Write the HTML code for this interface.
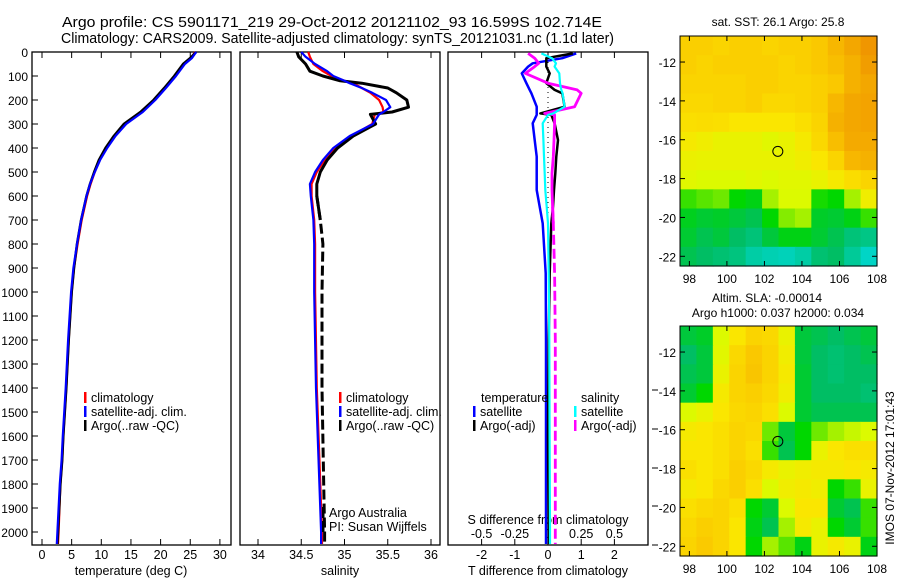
<!DOCTYPE html>
<html><head><meta charset="utf-8"><style>
html,body{margin:0;padding:0;background:#fff;}
svg{display:block;font-family:"Liberation Sans",sans-serif;}
</style></head><body>
<svg id="c" width="900" height="580" viewBox="0 0 900 580" xmlns="http://www.w3.org/2000/svg">
<text x="62" y="27" font-size="14.5" textLength="540" lengthAdjust="spacingAndGlyphs">Argo profile: CS 5901171_219 29-Oct-2012 20121102_93 16.599S 102.714E</text>
<text x="61" y="43" font-size="14.5" textLength="553" lengthAdjust="spacingAndGlyphs">Climatology: CARS2009. Satellite-adjusted climatology: synTS_20121031.nc (1.1d later)</text>
<g id="g"></g>
</svg>
<script>
// ---- data ----
const tDepth=[0,25,50,100,150,200,250,300,350,400,450,500,550,600,700,800,900,1000,1200,1400,1600,1700,1800,2000,2050];
const tArgo=[26,25,23.8,22.3,20.6,18.8,16.6,13.8,12.1,10.7,9.6,8.8,8.1,7.5,6.6,5.9,5.4,5.0,4.5,4.1,3.6,3.4,3.1,2.7,2.6];
const tClim=[25.8,25.2,24,22.5,20.8,19,16.8,14.1,12.2,10.8,9.7,8.9,8.2,7.6,6.7,6.0,5.4,5.0,4.5,4.1,3.6,3.4,3.1,2.8,2.7];
const tSat=[26,25.3,24.1,22.6,20.9,19.1,17.0,14.2,12.4,11.0,9.8,8.9,8.1,7.5,6.6,5.9,5.3,4.9,4.4,4.0,3.5,3.3,3.0,2.6,2.5];
const sDepth=[0,20,50,80,100,120,130,150,170,200,230,250,260,300,350,400,450,500,550,600,700,800,1000,1400,1800,2000,2050];
const sArgo=[34.45,34.47,34.55,34.6,34.75,34.95,35.2,35.5,35.6,35.72,35.74,35.55,35.3,35.36,35.1,34.92,34.8,34.72,34.68,34.68,34.72,34.75,34.74,34.74,34.76,34.77,34.77];
const sClim=[34.58,34.6,34.64,34.75,34.85,35.0,35.1,35.2,35.3,35.4,35.44,35.45,35.35,35.32,35.08,34.89,34.77,34.68,34.62,34.62,34.65,34.66,34.66,34.68,34.72,34.74,34.74];
const sSat=[34.5,34.55,34.66,34.8,34.87,35.0,35.06,35.2,35.32,35.48,35.53,35.45,35.4,35.33,35.06,34.87,34.75,34.66,34.6,34.61,34.64,34.65,34.65,34.67,34.71,34.73,34.73];
const dDepth=[6,26,47,61,89,130,158,172,228,256,262,297,367,436,506,575,645,714,922,1200,1600,2000,2050];
const dTsat=[0.85,0.43,-0.46,-0.6,-0.79,-0.65,-0.55,-0.5,-0.34,-0.34,-0.34,-0.46,-0.4,-0.34,-0.34,-0.34,-0.25,-0.16,-0.07,-0.06,-0.06,-0.06,-0.06];
const dTargo=[0.75,-0.05,-0.05,-0.05,0.05,-0.05,0.2,0.43,0.5,-0.23,0.1,0.2,0.3,0.25,0.22,0.18,0.15,0.1,0.05,0.02,0.0,0.02,0.02];
const dSsat=[-0.05,0.03,0.06,0.05,0.085,0.09,0.1,0.11,0.125,0.04,0.0,-0.04,-0.035,-0.03,-0.025,-0.02,-0.01,0.0,0.005,0.01,0.012,0.015,0.015];
const dSargo=[-0.15,-0.1,-0.07,-0.1,-0.17,0.0,0.22,0.25,0.2,-0.025,0.05,0.05,0.045,0.04,0.03,0.03,0.035,0.04,0.05,0.055,0.055,0.055,0.055];
const depthTicks=[0,100,200,300,400,500,600,700,800,900,1000,1100,1200,1300,1400,1500,1600,1700,1800,1900,2000];
const tTicks=[0,5,10,15,20,25,30];
const sTicks=[34,34.5,35,35.5,36];
const dTicks=[-2,-1,0,1,2];
const dsTicks=[-0.5,-0.25,0,0.25,0.5];
const latTicks=[-12,-14,-16,-18,-20,-22];
const lonTicks=[98,100,102,104,106,108];
const argoLon=102.714, argoLat=-16.599;
// map fields 12 cols x 12 rows, 0=cyan .. 1=orange
const sstGrid=[
[0.72,0.72,0.7,0.72,0.72,0.7,0.72,0.72,0.75,0.8,0.85,0.9],
[0.72,0.7,0.72,0.72,0.72,0.72,0.7,0.72,0.75,0.78,0.82,0.88],
[0.7,0.7,0.7,0.7,0.72,0.72,0.7,0.7,0.72,0.75,0.82,0.85],
[0.68,0.68,0.7,0.7,0.72,0.68,0.68,0.7,0.72,0.8,0.85,0.86],
[0.65,0.66,0.65,0.62,0.62,0.62,0.62,0.65,0.7,0.82,0.85,0.86],
[0.6,0.58,0.55,0.55,0.55,0.52,0.55,0.6,0.68,0.78,0.84,0.84],
[0.56,0.55,0.55,0.55,0.55,0.55,0.55,0.58,0.62,0.7,0.8,0.82],
[0.52,0.5,0.5,0.5,0.52,0.5,0.52,0.52,0.55,0.6,0.66,0.7],
[0.35,0.38,0.4,0.3,0.28,0.45,0.5,0.5,0.32,0.3,0.45,0.58],
[0.27,0.25,0.26,0.24,0.22,0.3,0.42,0.45,0.26,0.25,0.28,0.35],
[0.25,0.22,0.24,0.2,0.17,0.24,0.28,0.28,0.25,0.22,0.17,0.15],
[0.22,0.2,0.18,0.16,0.1,0.08,0.07,0.1,0.18,0.2,0.12,0.05]];
const slaGrid=[
[0.24,0.26,0.5,0.62,0.7,0.68,0.55,0.24,0.22,0.2,0.22,0.24],
[0.2,0.24,0.52,0.68,0.75,0.7,0.58,0.24,0.2,0.18,0.2,0.22],
[0.22,0.24,0.55,0.7,0.76,0.7,0.6,0.25,0.2,0.18,0.2,0.2],
[0.25,0.3,0.6,0.7,0.72,0.68,0.58,0.25,0.2,0.2,0.2,0.18],
[0.5,0.55,0.62,0.68,0.7,0.65,0.5,0.25,0.22,0.22,0.22,0.22],
[0.6,0.62,0.65,0.7,0.68,0.4,0.24,0.3,0.4,0.45,0.48,0.5],
[0.62,0.62,0.65,0.7,0.65,0.35,0.22,0.3,0.55,0.62,0.65,0.65],
[0.65,0.62,0.65,0.72,0.68,0.6,0.55,0.58,0.6,0.6,0.62,0.6],
[0.6,0.62,0.68,0.72,0.65,0.5,0.58,0.6,0.58,0.3,0.35,0.55],
[0.65,0.68,0.7,0.65,0.3,0.25,0.5,0.62,0.62,0.25,0.22,0.35],
[0.68,0.72,0.7,0.62,0.28,0.22,0.45,0.6,0.55,0.3,0.25,0.35],
[0.7,0.74,0.7,0.62,0.3,0.45,0.38,0.28,0.55,0.6,0.55,0.28]];
// ---- drawing ----
const NS='http://www.w3.org/2000/svg';
const G=document.getElementById('g');
function el(tag,attrs,parent){const e=document.createElementNS(NS,tag);for(const k in attrs)e.setAttribute(k,attrs[k]);(parent||G).appendChild(e);return e;}
function txt(x,y,s,size,anchor,parent){const t=el('text',{x:x,y:y,'font-size':size||12,'text-anchor':anchor||'middle'},parent);t.textContent=s;return t;}
const Y0=52,YT=545;
const yD=d=>Y0+d*0.24;
const xT=v=>42+v*5.93;
const xS=v=>258+(v-34)*86.5;
const xDf=v=>548+v*33.2;
const xDs=v=>548+v*4*33.2;
function box(x1,x2,name){const r=el('rect',{x:x1,y:Y0,width:x2-x1,height:YT-Y0,fill:'none',stroke:'#000','stroke-width':1.3});}
box(32,231,'temperature-panel');box(240,440,'salinity-panel');box(448,648,'difference-panel');
depthTicks.forEach(d=>{const y=yD(d);
 el('line',{x1:32,x2:38,y1:y,y2:y,stroke:'#000'});
 const t=txt(28,y+5,String(d),12,'end');});
function xticks(ticks,fx,ly){ticks.forEach(v=>{const x=fx(v);
 el('line',{x1:x,x2:x,y1:YT,y2:YT-6,stroke:'#000'});el('line',{x1:x,x2:x,y1:Y0,y2:Y0+6,stroke:'#000'});
 const t=txt(x,ly,String(v),12.5);});}
xticks(tTicks,xT,559);
xticks(sTicks,xS,559);
xticks(dTicks,xDf,559);
dsTicks.forEach(v=>{const t=txt(xDs(v),538,String(v),12.5);});
[['temperature (deg C)',131],['salinity',340],['T difference from climatology',548]].forEach(a=>{const t=txt(a[1],575,a[0],12.5);});
const st=txt(548,524,'S difference from climatology',12.5);
[390,429,468,506,545].forEach(y=>el('line',{x1:652,x2:658,y1:y,y2:y,stroke:'#000'}));
function line(depths,vals,fx,color,w,dash,name,dashFrom){
 const mk=(idx,d2)=>{const pts=idx.map(i=>fx(vals[i]).toFixed(1)+','+yD(depths[i]).toFixed(1)).join(' ');
  const p=el('polyline',{points:pts,fill:'none',stroke:color,'stroke-width':w,'stroke-linejoin':'round'});if(d2)p.setAttribute('stroke-dasharray',d2);
  };
 const all=depths.map((d,i)=>i);
 if(!dash){mk(all,null);return;}
 mk(all.filter(i=>depths[i]<=dashFrom||(i>0&&depths[i-1]<dashFrom)),null);
 mk(all.filter(i=>depths[i]>=dashFrom||(i<depths.length-1&&depths[i+1]>dashFrom)),dash);}
line(tDepth,tClim,xT,'#f00',2.2,null,'temp-climatology-line');
line(tDepth,tArgo,xT,'#000',2.5,null,'temp-argo-line');
line(tDepth,tSat,xT,'#00f',2.2,null,'temp-satellite-line');
line(sDepth,sClim,xS,'#f00',2.2,null,'sal-climatology-line');
line(sDepth,sArgo,xS,'#000',3,'10,4','sal-argo-line',650);
line(sDepth,sSat,xS,'#00f',2.2,null,'sal-satellite-line');
el('line',{x1:548,x2:548,y1:Y0,y2:yD(760),stroke:'#000','stroke-dasharray':'1,4'});
line(dDepth,dTsat,xDf,'#00f',2.5,null,'tdiff-satellite-line');
line(dDepth,dTargo,xDf,'#000',2.5,null,'tdiff-argo-line');
line(dDepth,dSargo,xDs,'#f0f',2.8,'10,4','sdiff-argo-line',700);
line(dDepth,dSsat,xDs,'#0ff',2.2,null,'sdiff-satellite-line');
function leg(x,y,c,s,name){el('rect',{x:x,y:y-10,width:2.5,height:11,fill:c});const t=txt(x+7,y,s,12.5,'start');}
leg(84,402,'#f00','climatology','legend-climatology');leg(84,416,'#00f','satellite-adj. clim.','legend-satellite');leg(84,430,'#000','Argo(..raw -QC)','legend-argo');
leg(339,402,'#f00','climatology','legend-climatology-2');leg(339,416,'#00f','satellite-adj. clim.','legend-satellite-2');leg(339,430,'#000','Argo(..raw -QC)','legend-argo-2');
txt(481,402,'temperature',12.5,'start');txt(581,402,'salinity',12.5,'start');
leg(473,416,'#00f','satellite','legend-t-satellite');leg(473,430,'#000','Argo(-adj)','legend-t-argo');
leg(574,416,'#0ff','satellite','legend-s-satellite');leg(574,430,'#f0f','Argo(-adj)','legend-s-argo');
leg(322,517,'#000','Argo Australia','credit-argo-australia');leg(322,531,'#000','PI: Susan Wijffels','credit-pi');
function cmap(v){const stops=[[0,[0,220,230]],[0.2,[0,190,100]],[0.3,[0,215,0]],[0.5,[220,250,0]],[0.62,[250,230,0]],[0.75,[250,200,0]],[0.9,[240,150,0]],[1,[220,120,0]]];
 for(let i=1;i<stops.length;i++){if(v<=stops[i][0]){const a=stops[i-1],b=stops[i],f=(v-a[0])/(b[0]-a[0]);return 'rgb('+a[1].map((c,j)=>Math.round(c+(b[1][j]-c)*f)).join(',')+')';}}return 'rgb(220,120,0)';}
function map(top,grid,name){const L=680,R=877,B=top+230,lon0=97.5,lon1=108,lat0=-10.66,lat1=-22.5;
 const fx=v=>L+(v-lon0)/(lon1-lon0)*(R-L),fy=v=>top+(v-lat0)/(lat1-lat0)*(B-top);
 const g=el('g',{});
 const nr=grid.length,nc=grid[0].length,cw=(R-L)/nc,ch=(B-top)/nr;
 grid.forEach((row,r)=>row.forEach((v,c)=>{el('rect',{x:L+c*cw,y:top+r*ch,width:cw+0.6,height:ch+0.6,fill:cmap(v)},g);}));
 el('rect',{x:L,y:top,width:R-L,height:B-top,fill:'none',stroke:'#000','stroke-width':1},g);
 latTicks.forEach(v=>{const y=fy(v);el('line',{x1:L,x2:L+5,y1:y,y2:y,stroke:'#000'},g);el('line',{x1:R,x2:R-5,y1:y,y2:y,stroke:'#000'},g);txt(L-4,y+5,String(v),12,'end',g);});
 lonTicks.forEach(v=>{const x=fx(v);el('line',{x1:x,x2:x,y1:B,y2:B-5,stroke:'#000'},g);el('line',{x1:x,x2:x,y1:top,y2:top+5,stroke:'#000'},g);txt(x,B+17,String(v),12,'middle',g);});
 const m=el('circle',{cx:fx(argoLon),cy:fy(argoLat),r:5,fill:'none',stroke:'#000','stroke-width':1},g);}
map(36,sstGrid,'sst-map');map(326,slaGrid,'sla-map');
const m1=txt(778,26,'sat. SST: 26.1  Argo: 25.8',12);
const m2=txt(767,302,'Altim. SLA: -0.00014',12);
const m3=txt(778,317,'Argo h1000: 0.037 h2000: 0.034',12);
const ts=txt(0,0,'IMOS 07-Nov-2012 17:01:43',12,'middle');ts.setAttribute('transform','translate(894,468) rotate(-90)');
</script>
</body></html>
